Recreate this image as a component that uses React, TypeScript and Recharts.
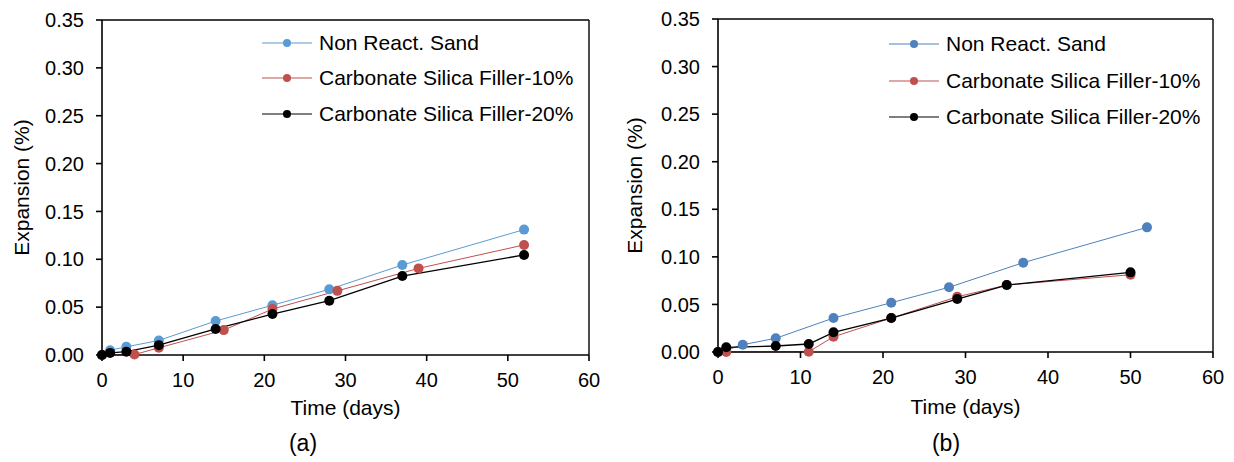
import React from "react";
import { LineChart, Line, XAxis, YAxis, Legend, ReferenceLine } from "recharts";

// (a) series
const nrDaysA = [0, 1, 3, 7, 14, 21, 28, 37, 52];
const nrExpA = [0, 0.005, 0.0085, 0.0152, 0.0355, 0.052, 0.0686, 0.094, 0.131];
const c10DaysA = [0, 4, 7, 15, 21, 29, 39, 52];
const c10ExpA = [0, 0.0005, 0.0075, 0.026, 0.048, 0.067, 0.0905, 0.115];
const c20DaysA = [0, 1, 3, 7, 14, 21, 28, 37, 52];
const c20ExpA = [0, 0.0022, 0.0035, 0.0103, 0.0272, 0.0428, 0.0567, 0.0825, 0.1045];

// (b) series
const nrDaysB = [0, 1, 3, 7, 14, 21, 28, 37, 52];
const nrExpB = [0, 0.002, 0.0077, 0.0144, 0.0357, 0.0518, 0.068, 0.0939, 0.131];
const c10DaysB = [0, 1, 11, 14, 21, 29, 35, 50];
const c10ExpB = [0, 0, 0.0003, 0.016, 0.0357, 0.058, 0.0704, 0.0812];
const c20DaysB = [0, 1, 7, 11, 14, 21, 29, 35, 50];
const c20ExpB = [0, 0.0049, 0.0063, 0.0084, 0.0207, 0.0357, 0.0557, 0.0704, 0.0837];

const xTicks = [0, 10, 20, 30, 40, 50, 60];
const yTicks = [0, 0.05, 0.1, 0.15, 0.2, 0.25, 0.3, 0.35];
const seriesNames = ["Non React. Sand", "Carbonate Silica Filler-10%", "Carbonate Silica Filler-20%"];

const FONT = "'Liberation Sans', Arial, sans-serif";

const toPoints = (days: number[], vals: number[]) => days.map((d, i) => ({ day: d, exp: vals[i] }));

function LegendBox({ colors, rowH }: { colors: string[]; rowH: number }) {
  return (
    <div style={{ fontFamily: FONT, fontSize: 21, color: "#000" }}>
      {seriesNames.map((name, i) => (
        <div key={name} style={{ display: "flex", alignItems: "center", height: rowH }}>
          <svg width={50} height={12} style={{ marginRight: 7 }}>
            <line x1={0} y1={6} x2={50} y2={6} stroke={colors[i]} strokeWidth={1.2} />
            <circle cx={25} cy={6} r={4} fill={colors[i]} />
          </svg>
          <span>{name}</span>
        </div>
      ))}
    </div>
  );
}

function Panel({
  width, yAxisW, top, bottom, xAxisH, yLabelOff, legendLeft, legendTop, rowH, blue, series,
}: any) {
  const tickStyle = { fontSize: 20, fill: "#000", fontFamily: FONT };
  const colors = [blue, "#C0504D", "#000000"];
  return (
    <LineChart width={width} height={462} margin={{ top, right: 21, left: 0, bottom }}>
      <XAxis
        type="number"
        dataKey="day"
        domain={[0, 60]}
        ticks={xTicks}
        allowDuplicatedCategory={false}
        tick={tickStyle}
        tickSize={6}
        tickMargin={12}
        height={xAxisH}
        stroke="#000"
        strokeWidth={1.6}
        label={{ value: "Time (days)", position: "insideBottom", offset: 0, style: { fontSize: 21, fill: "#000", fontFamily: FONT } }}
      />
      <YAxis
        type="number"
        dataKey="exp"
        domain={[0, 0.35]}
        ticks={yTicks}
        tickFormatter={(v: number) => v.toFixed(2)}
        tick={tickStyle}
        tickSize={6}
        tickMargin={12}
        width={yAxisW}
        stroke="#000"
        strokeWidth={1.6}
        label={{ value: "Expansion (%)", angle: -90, position: "insideLeft", offset: yLabelOff, style: { textAnchor: "middle", fontSize: 21, fill: "#000", fontFamily: FONT } }}
      />
      <ReferenceLine y={0.35} stroke="#000" strokeWidth={1.4} />
      <ReferenceLine x={60} stroke="#000" strokeWidth={1.4} />
      <Legend
        layout="vertical"
        align="center"
        verticalAlign="middle"
        wrapperStyle={{ left: legendLeft, top: legendTop, width: 340 }}
        content={() => <LegendBox colors={colors} rowH={rowH} />}
      />
      {series.map((s: any, i: number) => (
        <Line
          key={seriesNames[i]}
          name={seriesNames[i]}
          data={s}
          dataKey="exp"
          type="linear"
          stroke={colors[i]}
          strokeWidth={i === 2 ? 1.3 : 1}
          dot={{ r: 5, fill: colors[i], stroke: "none" }}
          isAnimationActive={false}
        />
      ))}
    </LineChart>
  );
}

export default function App() {
  const seriesA = [toPoints(nrDaysA, nrExpA), toPoints(c10DaysA, c10ExpA), toPoints(c20DaysA, c20ExpA)];
  const seriesB = [toPoints(nrDaysB, nrExpB), toPoints(c10DaysB, c10ExpB), toPoints(c20DaysB, c20ExpB)];
  const caption = { position: "absolute" as const, fontFamily: FONT, fontSize: 23, color: "#000", top: 430, transform: "translateX(-50%)" };
  return (
    <div style={{ position: "absolute", left: 0, top: 0, width: 1234, height: 462, background: "#fff" }}>
      <div style={{ position: "absolute", left: 0, top: 0 }}>
        <Panel width={610} yAxisW={102} top={20} bottom={47} xAxisH={60} yLabelOff={22}
          legendLeft={262} legendTop={25} rowH={35.5} blue="#5B9BD5" series={seriesA} />
      </div>
      <div style={{ position: "absolute", left: 610, top: 0 }}>
        <Panel width={624} yAxisW={108} top={19} bottom={48} xAxisH={62} yLabelOff={25}
          legendLeft={279} legendTop={26} rowH={36.5} blue="#4F81BD" series={seriesB} />
      </div>
      <div style={{ ...caption, left: 303 }}>(a)</div>
      <div style={{ ...caption, left: 946 }}>(b)</div>
    </div>
  );
}
